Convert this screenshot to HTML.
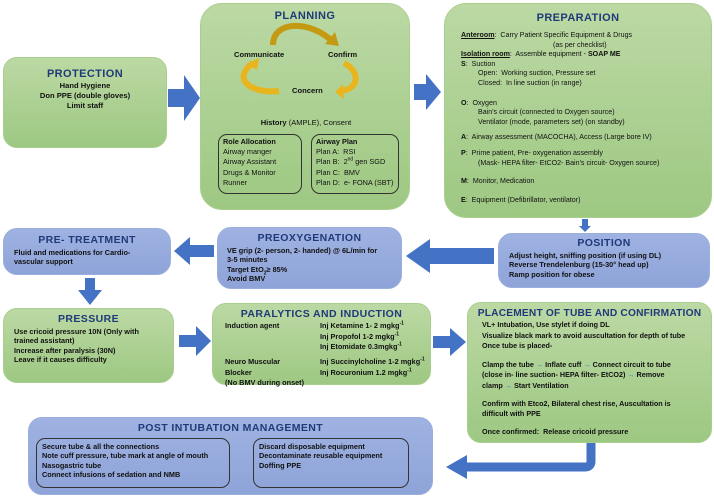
<!DOCTYPE html>
<html><head><meta charset="utf-8"><style>
body{margin:0;width:714px;height:500px;background:#fff;position:relative;overflow:hidden;font-family:"Liberation Sans",Arial,sans-serif;color:#111}
.b{position:absolute;box-sizing:border-box;border-radius:14px;font-size:7.3px;line-height:1.3;font-weight:bold}
.g{background:linear-gradient(#bcd9a4,#9dc882);border:1px solid #a9cf8e}
.u{background:linear-gradient(#9fb2e2,#8ea3d8);border:1px solid #9aaedd}
.t{color:#1f3a78;font-weight:900;text-align:center;font-size:10.5px;letter-spacing:.4px}
.n{font-weight:normal}
.a{position:absolute}
.in{position:absolute;border:1px solid #333;border-radius:9px;box-sizing:border-box}
sup,sub{font-size:5px;line-height:0}
.p{position:absolute;white-space:nowrap}
</style></head><body>

<div class="b g" style="left:3px;top:57px;width:164px;height:91px;padding-top:9px;text-align:center;font-size:7.6px">
<div class="t" style="font-size:11px">PROTECTION</div>Hand Hygiene<br>Don PPE (double gloves)<br>Limit staff</div>

<svg class="a" style="left:166px;top:72px" width="36" height="52"><polygon points="2,17 18,17 18,3 34,26 18,49 18,35 2,35" fill="#4472c4"/></svg>

<div class="b g" style="left:200px;top:3px;width:210px;height:207px;border-radius:22px">
<div class="t" style="margin-top:5px;font-size:11px">PLANNING</div>
<div style="position:absolute;left:33px;top:46px;font-size:7.6px">Communicate</div>
<div style="position:absolute;left:127px;top:46px;font-size:7.6px">Confirm</div>
<div style="position:absolute;left:91px;top:82px;font-size:7.6px">Concern</div>
<svg style="position:absolute;left:0;top:0" width="210" height="110">
<path d="M72,41 C72,16 110,16 132,38" stroke="#c49a12" stroke-width="6" fill="none"/><polygon points="124,40 138,42 134,28" fill="#c49a12"/>
<path d="M143,59 C160,68 158,85 140,87" stroke="#e8b51e" stroke-width="6" fill="none"/><polygon points="142,80 134,88 143,95" fill="#e8b51e"/>
<path d="M78,87 C50,90 30,75 52,59" stroke="#e8b51e" stroke-width="6" fill="none"/><polygon points="45,60 58,54 56,66" fill="#e8b51e"/>
</svg>
<div class="n" style="position:absolute;left:0;width:210px;top:114px;text-align:center;font-size:7.5px"><b>History</b> (AMPLE), Consent</div>
<div class="in" style="left:17px;top:130px;width:84px;height:60px;padding:2px 4px;font-weight:normal;line-height:1.4"><b>Role Allocation</b><br>Airway manger<br>Airway Assistant<br>Drugs &amp; Monitor<br>Runner</div>
<div class="in" style="left:110px;top:130px;width:88px;height:60px;padding:2px 4px;font-weight:normal;line-height:1.4;white-space:nowrap"><b>Airway Plan</b><br>Plan A:&nbsp; RSI<br>Plan B:&nbsp; 2<sup>nd</sup> gen SGD<br>Plan C:&nbsp; BMV<br>Plan D:&nbsp; e- FONA (SBT)</div>
</div>

<svg class="a" style="left:413px;top:72px" width="30" height="40"><polygon points="1,12 13,12 13,2 28,20 13,38 13,28 1,28" fill="#4472c4"/></svg>

<div class="b g n" style="left:444px;top:3px;width:268px;height:215px;border-radius:22px;font-weight:normal;font-size:7.1px;line-height:9.6px;padding-left:16px;white-space:nowrap">
<div class="t" style="margin-top:8px;margin-left:-16px;margin-bottom:6px;font-size:11px;line-height:13px">PREPARATION</div>
<b><u>Anteroom</u></b>:&nbsp; Carry Patient Specific Equipment &amp; Drugs<br><span style="margin-left:92px">(as per checklist)</span><br>
<b><u>Isolation room</u></b>:&nbsp; Assemble equipment - <b>SOAP ME</b><br>
<b>S</b>:&nbsp; Suction<br><span style="margin-left:17px">Open:&nbsp; Working suction, Pressure set</span><br><span style="margin-left:17px">Closed:&nbsp; In line suction (in range)</span><br><div style="height:10px"></div>
<b>O</b>:&nbsp; Oxygen<br><span style="margin-left:17px">Bain's circuit (connected to Oxygen source)</span><br><span style="margin-left:17px">Ventilator (mode, parameters set) (on standby)</span>
<div style="height:6px"></div><b>A</b>:&nbsp; Airway assessment (MACOCHA), Access (Large bore IV)
<div style="height:6px"></div><b>P</b>:&nbsp; Prime patient, Pre- oxygenation assembly<br><span style="margin-left:17px">(Mask- HEPA filter- EtCO2- Bain's circuit- Oxygen source)</span>
<div style="height:9px"></div><b>M</b>:&nbsp; Monitor, Medication
<div style="height:9px"></div><b>E</b>:&nbsp; Equipment (Defibrillator, ventilator)
</div>

<svg class="a" style="left:578px;top:219px" width="14" height="14"><polygon points="4,0 10,0 10,7 13,7 7,13 1,7 4,7" fill="#4472c4"/></svg>

<div class="b u" style="left:498px;top:233px;width:212px;height:55px;padding:3px 0 0 10px">
<div class="t" style="margin-left:-10px">POSITION</div>Adjust height, sniffing position (if using DL)<br>Reverse Trendelenburg (15-30° head up)<br>Ramp position for obese</div>

<svg class="a" style="left:404px;top:237px" width="92" height="38"><polygon points="90,11 26,11 26,2 2,19 26,36 26,27 90,27" fill="#4472c4"/></svg>

<div class="b u" style="left:217px;top:227px;width:185px;height:62px;padding:4px 0 0 9px">
<div class="t" style="margin-left:-9px">PREOXYGENATION</div>VE grip (2- person, 2- handed) @ 6L/min for<br>3-5 minutes<br>Target EtO<sub>2</sub>≥ 85%<br>Avoid BMV</div>

<svg class="a" style="left:172px;top:236px" width="44" height="30"><polygon points="42,9 18,9 18,1 2,15 18,29 18,21 42,21" fill="#4472c4"/></svg>

<div class="b u" style="left:3px;top:228px;width:168px;height:47px;padding:5px 0 0 10px">
<div class="t" style="margin-left:-10px">PRE- TREATMENT</div>Fluid and medications for Cardio-<br>vascular support</div>

<svg class="a" style="left:77px;top:277px" width="26" height="30"><polygon points="8,1 18,1 18,13 25,13 13,28 1,13 8,13" fill="#4472c4"/></svg>

<div class="b g" style="left:3px;top:308px;width:171px;height:75px;padding:4px 0 0 10px">
<div class="t" style="margin-left:-10px">PRESSURE</div>Use cricoid pressure 10N (Only with<br>trained assistant)<br>Increase after paralysis (30N)<br>Leave if it causes difficulty</div>

<svg class="a" style="left:178px;top:325px" width="34" height="32"><polygon points="1,10 18,10 18,1 33,16 18,31 18,22 1,22" fill="#4472c4"/></svg>

<div class="b g" style="left:212px;top:303px;width:219px;height:82px;line-height:10.5px">
<div class="t" style="margin-top:4px;line-height:13px">PARALYTICS AND INDUCTION</div>
<div class="p" style="left:12px;top:10px;line-height:10.5px;top:10px"></div>
<div class="p" style="left:12px;top:10px"></div>
<div class="p" style="left:12px;top:10px"></div>
<div class="p" style="left:12px;top:10px"></div>
<div class="p" style="left:12px;top:10px"></div>
<div class="p" style="left:12px;top:10px"></div>
<div class="p" style="left:12px;top:10px"></div>
<div class="p" style="left:12px;top:10px"></div>
<div class="p" style="left:12px;top:10px"></div>
<div class="p" style="left:12px;top:10px"></div>
<div class="p" style="left:12px;top:17px">Induction agent</div>
<div class="p" style="left:12px;top:53px">Neuro Muscular<br>Blocker<br>(No BMV during onset)</div>
<div class="p" style="left:107px;top:17px">Inj Ketamine 1- 2 mgkg<sup>-1</sup><br>Inj Propofol 1-2 mgkg<sup>-1</sup><br>Inj Etomidate 0.3mgkg<sup>-1</sup></div>
<div class="p" style="left:107px;top:53px">Inj Succinylcholine 1-2 mgkg<sup>-1</sup><br>Inj Rocuronium 1.2 mgkg<sup>-1</sup></div>
</div>

<svg class="a" style="left:432px;top:327px" width="36" height="30"><polygon points="1,9 18,9 18,1 34,15 18,29 18,21 1,21" fill="#4472c4"/></svg>

<div class="b g" style="left:467px;top:302px;width:245px;height:141px;padding:4px 0 0 14px;font-size:7.2px;line-height:10.6px;white-space:nowrap">
<div class="t" style="margin-left:-14px;font-size:10.2px;letter-spacing:.2px;line-height:13px">PLACEMENT OF TUBE AND CONFIRMATION</div>
VL+ Intubation, Use stylet if doing DL<br>Visualize black mark to avoid auscultation for depth of tube<br>Once tube is placed-<br><div style="height:8px"></div>
Clamp the tube <span style="color:#4a7fd4">→</span> Inflate cuff <span style="color:#4a7fd4">→</span> Connect circuit to tube<br>(close in- line suction- HEPA filter- EtCO2) <span style="color:#4a7fd4">→</span> Remove<br>clamp <span style="color:#4a7fd4">→</span> Start Ventilation<div style="height:7px"></div>
Confirm with Etco2, Bilateral chest rise, Auscultation is<br>difficult with PPE<div style="height:7px"></div>
Once confirmed:&nbsp; Release cricoid pressure</div>

<svg class="a" style="left:440px;top:443px" width="170" height="40"><path d="M151,0 L151,18 Q151,24 145,24 L25,24" stroke="#4472c4" stroke-width="9" fill="none"/><polygon points="27,12 27,36 6,24" fill="#4472c4"/></svg>

<div class="b u" style="left:28px;top:417px;width:405px;height:78px">
<div class="t" style="margin-top:4px">POST INTUBATION MANAGEMENT</div>
<div class="in" style="left:7px;top:20px;width:194px;height:50px;padding:3px 5px">Secure tube &amp; all the connections<br>Note cuff pressure, tube mark at angle of mouth<br>Nasogastric tube<br>Connect infusions of sedation and NMB</div>
<div class="in" style="left:224px;top:20px;width:156px;height:50px;padding:3px 5px">Discard disposable equipment<br>Decontaminate reusable equipment<br>Doffing PPE</div>
</div>
</body></html>
